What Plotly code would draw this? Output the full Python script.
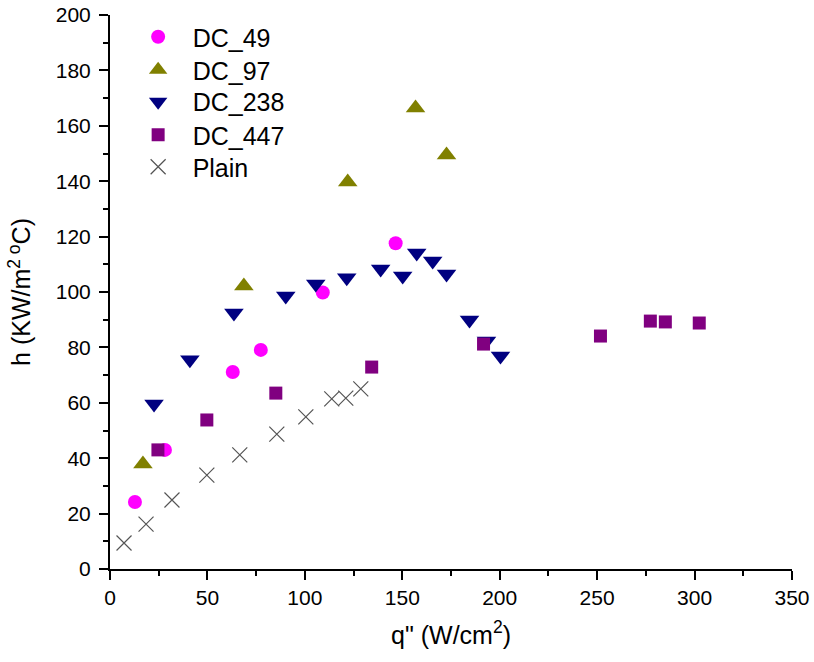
import plotly.graph_objects as go

dc49_x = [12.8, 28.2, 63.0, 77.4, 109.2, 146.6]
dc49_y = [24.2, 43.0, 71.1, 79.1, 99.8, 117.6]

dc97_x = [16.9, 68.7, 122.0, 156.8, 172.7]
dc97_y = [37.9, 102.2, 139.7, 166.4, 149.5]

dc238_x = [22.6, 41.0, 63.6, 90.2, 105.6, 121.5, 138.9, 150.2, 157.4, 165.6, 172.7, 184.5, 193.2, 200.4]
dc238_y = [59.6, 75.5, 92.4, 98.6, 102.9, 105.1, 108.3, 105.8, 114.1, 111.2, 106.5, 89.9, 82.3, 76.9]

dc447_x = [24.6, 49.7, 85.1, 134.3, 191.7, 251.7, 277.3, 285.0, 302.4]
dc447_y = [43.0, 53.8, 63.5, 72.9, 81.2, 84.1, 89.5, 89.2, 88.8]

plain_x = [7.2, 18.5, 31.8, 49.7, 66.6, 85.6, 100.5, 113.8, 121.0, 128.7]
plain_y = [9.4, 16.2, 24.9, 33.9, 41.2, 48.7, 54.9, 61.4, 61.7, 65.0]

FONT = "Liberation Sans, Arial, sans-serif"

fig = go.Figure()
fig.add_trace(go.Scatter(x=dc49_x, y=dc49_y, mode="markers", name="DC_49", legend="legend",
                         marker=dict(symbol="circle", size=14, color="#FF00FF", line=dict(width=0))))
fig.add_trace(go.Scatter(x=dc97_x, y=dc97_y, mode="markers", name="DC_97", legend="legend2",
                         marker=dict(symbol="triangle-up", size=17, color="#808000", line=dict(width=0))))
fig.add_trace(go.Scatter(x=dc238_x, y=dc238_y, mode="markers", name="DC_238", legend="legend3",
                         marker=dict(symbol="triangle-down", size=17, color="#000080", line=dict(width=0))))
fig.add_trace(go.Scatter(x=dc447_x, y=dc447_y, mode="markers", name="DC_447", legend="legend4",
                         marker=dict(symbol="square", size=13, color="#800080", line=dict(width=0))))
fig.add_trace(go.Scatter(x=plain_x, y=plain_y, mode="markers", name="Plain", legend="legend5",
                         marker=dict(symbol="x-thin-open", size=15, color="#555555",
                                     line=dict(width=1.2, color="#555555"))))

axis_common = dict(
    showgrid=False, zeroline=False, showline=True, linecolor="black", linewidth=2,
    ticks="outside", ticklen=9, tickwidth=2, tickcolor="black", automargin=False,
    tickfont=dict(family=FONT, size=21, color="black"),
)

def leg(ypos):
    return dict(x=0.02, y=ypos, xanchor="left", yanchor="top",
                font=dict(size=25, color="black"), bgcolor="rgba(0,0,0,0)",
                itemwidth=59)

fig.update_layout(
    width=814, height=662,
    margin=dict(l=110, r=22, t=15, b=93),
    paper_bgcolor="white", plot_bgcolor="white",
    font=dict(family=FONT, color="black"),
    xaxis=dict(range=[0, 350], dtick=50, **axis_common,
               minor=dict(ticks="outside", ticklen=5, tickwidth=2, tickcolor="black", dtick=25),
               title=dict(text="q\" (W/cm<sup>2</sup>)", font=dict(size=25), standoff=18)),
    yaxis=dict(range=[0, 200], dtick=20, **axis_common, ticklabelstandoff=4,
               minor=dict(ticks="outside", ticklen=5, tickwidth=2, tickcolor="black", dtick=10),
               title=dict(text="h (KW/m<sup>2 o</sup>C)", font=dict(size=25), standoff=18)),
    legend=leg(1.0018),
    legend2=leg(0.9422),
    legend3=leg(0.8845),
    legend4=leg(0.8249),
    legend5=leg(0.7671),
    showlegend=True,
)

fig.write_html("out.html", config={"displayModeBar": False},
               post_script="document.body.style.margin='0px';")
